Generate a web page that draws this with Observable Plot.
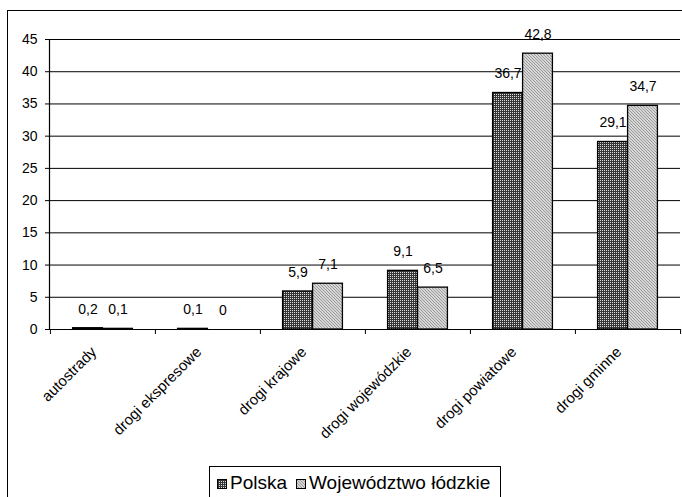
<!DOCTYPE html>
<html>
<head>
<meta charset="utf-8">
<script src="https://cdn.jsdelivr.net/npm/d3@7"></script>
<script src="https://cdn.jsdelivr.net/npm/@observablehq/plot@0.6"></script>
<style>
  html, body { margin: 0; padding: 0; background: #fff; overflow: hidden; width: 682px; height: 497px; }
  body { position: relative; font-family: "Liberation Sans", Arial, sans-serif; }
  #frame { position: absolute; left: 7px; top: 10px; width: 700px; height: 520px; border: 1.5px solid #000; box-sizing: border-box; }
  #chart { position: absolute; left: 0; top: 0; }
  #legend { position: absolute; left: 209px; top: 466px; border: 1px solid #000; padding: 4px 10px 20px 7px; font-size: 19px; white-space: nowrap; background: #fff; }
  #legend .item { display: inline-flex; align-items: center; }
  #legend svg { margin-right: 3px; position: relative; top: 1px; }
</style>
</head>
<body>
<div id="frame"></div>
<div id="chart"></div>
<div id="legend"></div>
<script>
const categories = ["autostrady", "drogi ekspresowe", "drogi krajowe", "drogi wojewódzkie", "drogi powiatowe", "drogi gminne"];
const polska = [0.2, 0.1, 5.9, 9.1, 36.7, 29.1];
const lodzkie = [0.1, 0, 7.1, 6.5, 42.8, 34.7];
const seriesNames = ["Polska", "Województwo łódzkie"];
const yTicks = [0, 5, 10, 15, 20, 25, 30, 35, 40, 45];

const data = categories.flatMap((c, i) => [
  {cat: c, series: seriesNames[0], value: polska[i]},
  {cat: c, series: seriesNames[1], value: lodzkie[i]}
]);
const dP = data.filter(d => d.series === seriesNames[0]);
const dL = data.filter(d => d.series === seriesNames[1]);
const fmt = v => String(v).replace(".", ",");

const W = 682, H = 460, mL = 49, mR = 2, mT = 39, mB = 131;
const bw = (W - mL - mR) / categories.length;
const barW = 30;

const patDefs = `
<pattern id="patP" patternUnits="userSpaceOnUse" width="2" height="2">
  <rect width="2" height="2" fill="#363636"/><rect width="1" height="1" fill="#e0e0e0"/>
</pattern>
<pattern id="patL" patternUnits="userSpaceOnUse" width="3" height="3">
  <rect width="3" height="3" fill="#d6d6d6"/>
  <rect x="0" y="0" width="1" height="1" fill="#9a9a9a"/>
  <rect x="1" y="1" width="1" height="1" fill="#9a9a9a"/>
  <rect x="2" y="2" width="1" height="1" fill="#9a9a9a"/>
</pattern>`;

const chart = Plot.plot({
  width: W, height: H,
  marginLeft: mL, marginRight: mR, marginTop: mT, marginBottom: mB,
  style: {fontFamily: "Liberation Sans, Arial, sans-serif", fontSize: "14px", color: "#000", background: "transparent", overflow: "visible"},
  x: {domain: categories, padding: 0, label: null},
  y: {domain: [0, 45], label: null},
  marks: [
    Plot.ruleY(yTicks, {stroke: "#000", strokeWidth: 1}),
    Plot.frame({anchor: "left", stroke: "#000", strokeWidth: 1.2}),
    Plot.ruleX(categories, {x: d => d, y1: 0, y2: 0, dx: -bw / 2, insetBottom: -5, stroke: "#000"}),
    Plot.ruleX([categories[categories.length - 1]], {x: d => d, y1: 0, y2: 0, dx: bw / 2, insetBottom: -5, stroke: "#000"}),
    Plot.barY(dP, {x: "cat", y: "value", fill: "url(#patP)", stroke: "#000", strokeWidth: 1.3, insetLeft: bw / 2 - barW, insetRight: bw / 2}),
    Plot.barY(dL, {x: "cat", y: "value", fill: "url(#patL)", stroke: "#000", strokeWidth: 1.3, insetLeft: bw / 2, insetRight: bw / 2 - barW}),
    Plot.text(dP, {x: "cat", y: "value", text: d => fmt(d.value), dx: -barW / 2, dy: -19, fontSize: 14, fill: "#000"}),
    Plot.text(dL, {x: "cat", y: "value", text: d => fmt(d.value), dx: barW / 2, dy: -19, fontSize: 14, fill: "#000"}),
    Plot.axisY({ticks: yTicks, tickSize: 4, tickPadding: 8, fontSize: 14, label: null, stroke: "#000"}),
    Plot.axisX({tickSize: 0, tickRotate: -45, tickPadding: 20, dx: -9, fontSize: 15, label: null})
  ]
});
d3.select(chart).insert("defs", ":first-child").html(patDefs);
document.getElementById("chart").appendChild(chart);

// Legend
const leg = document.getElementById("legend");
const fills = ["patP", "patL"];
seriesNames.forEach((name, i) => {
  const item = document.createElement("span");
  item.className = "item";
  if (i > 0) item.style.marginLeft = "9px";
  item.innerHTML = `<svg width="10" height="10"><rect x="0.5" y="0.5" width="9" height="9" fill="url(#${fills[i]})" stroke="#000" stroke-width="1"/></svg><span>${name}</span>`;
  leg.appendChild(item);
});
</script>
</body>
</html>
